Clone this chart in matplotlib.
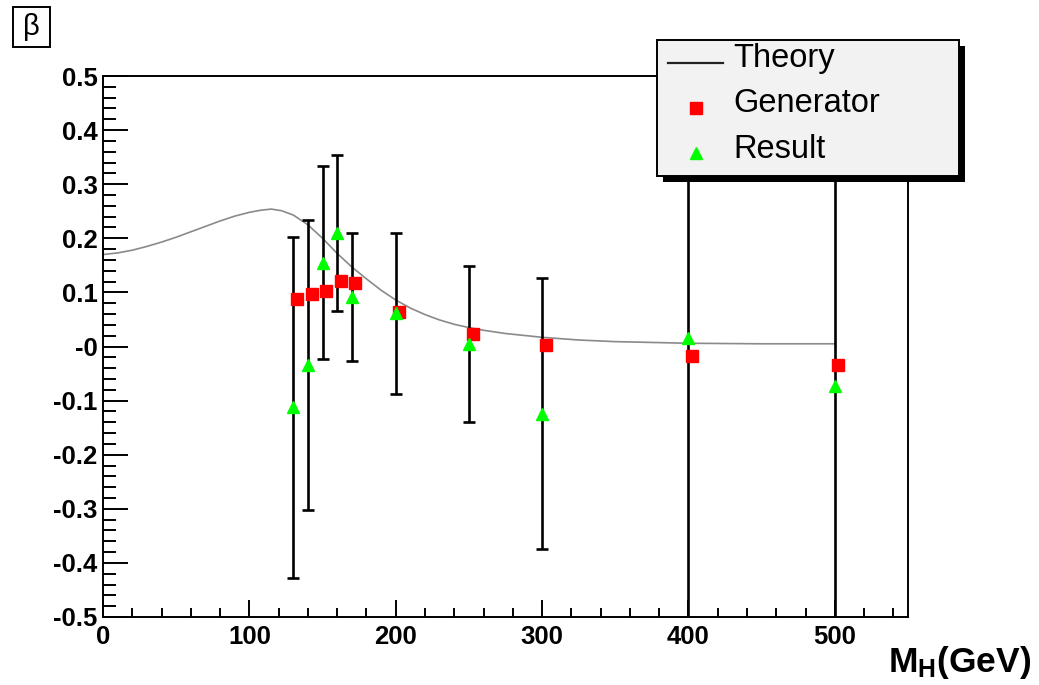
import matplotlib
matplotlib.use("Agg")
import matplotlib.pyplot as plt
from matplotlib.patches import Rectangle
from matplotlib.lines import Line2D
from matplotlib.ticker import MultipleLocator

plt.rcParams['font.family'] = ['Liberation Sans', 'DejaVu Sans']
plt.rcParams['mathtext.fontset'] = 'custom'
plt.rcParams['mathtext.rm'] = 'Liberation Sans'
plt.rcParams['mathtext.bf'] = 'Liberation Sans:bold'

# ---- data ----
theory_x = [0, 10, 20, 30, 40, 50, 60, 70, 80, 90, 100, 108, 115, 122, 130, 140,
            150, 160, 170, 180, 190, 200, 210, 220, 230, 240, 250, 260, 275, 300,
            325, 350, 400, 450, 500]
theory_y = [0.170, 0.173, 0.178, 0.185, 0.193, 0.202, 0.212, 0.222, 0.232, 0.241,
            0.248, 0.252, 0.254, 0.251, 0.243, 0.225, 0.200, 0.172, 0.147, 0.125,
            0.104, 0.086, 0.071, 0.059, 0.049, 0.041, 0.035, 0.030, 0.024, 0.017,
            0.012, 0.009, 0.006, 0.005, 0.005]

mass = [130, 140, 150, 160, 170, 200, 250, 300, 400, 500]
gen_x = [132.5, 142.5, 152.5, 162.5, 172.5, 202.5, 252.5, 302.5, 402.5, 502.5]
gen_y = [0.088, 0.097, 0.103, 0.121, 0.117, 0.064, 0.023, 0.003, -0.017, -0.035]
res_y = [-0.112, -0.034, 0.155, 0.210, 0.091, 0.061, 0.004, -0.124, 0.015, -0.073]
res_err = [0.315, 0.268, 0.178, 0.144, 0.118, 0.149, 0.144, 0.250, 0.60, 0.60]

ytick_vals = [-0.5, -0.4, -0.3, -0.2, -0.1, 0.0, 0.1, 0.2, 0.3, 0.4, 0.5]
ytick_labels = ['-0.5', '-0.4', '-0.3', '-0.2', '-0.1', '-0', '0.1', '0.2', '0.3', '0.4', '0.5']
xtick_vals = [0, 100, 200, 300, 400, 500]
xtick_labels = ['0', '100', '200', '300', '400', '500']

W, H = 1039, 685
fig = plt.figure(figsize=(W / 100, H / 100), dpi=100)

def fx(px):
    return px / W

def fy(py):
    return 1 - py / H

ax = fig.add_axes([fx(103), fy(617), fx(908) - fx(103), fy(76) - fy(617)])
ax.set_xlim(0, 550)
ax.set_ylim(-0.5, 0.5)

ax.plot(theory_x, theory_y, color='#8a8a8a', lw=1.2, zorder=2)
ax.errorbar(mass, res_y, yerr=res_err, fmt='none', ecolor='black', elinewidth=1.9,
            capsize=4, capthick=1.9, zorder=3)
ax.plot(gen_x, gen_y, ls='none', marker='s', ms=8.5, color='#ff0000', mec='#ff0000', zorder=4)
ax.plot(mass, res_y, ls='none', marker='^', ms=9, color='#00ff00', mec='#00ff00', zorder=5)

for s in ax.spines.values():
    s.set_linewidth(1.4)
ax.set_xticks(xtick_vals)
ax.set_xticklabels(xtick_labels)
ax.set_yticks(ytick_vals)
ax.set_yticklabels(ytick_labels)
ax.xaxis.set_minor_locator(MultipleLocator(20))
ax.yaxis.set_minor_locator(MultipleLocator(0.02))
ax.tick_params(axis='both', which='both', direction='in', width=1.4, color='black')
ax.tick_params(axis='y', which='major', length=18, pad=4)
ax.tick_params(axis='y', which='minor', length=9.5)
ax.tick_params(axis='x', which='major', length=12, pad=6)
ax.tick_params(axis='x', which='minor', length=6.5)
for lab in ax.get_xticklabels() + ax.get_yticklabels():
    lab.set_fontweight('bold')
    lab.set_fontsize(18.5)

# axis title
fig.text(fx(1031), fy(672), r'$\mathbf{M_{H}(GeV)}$', ha='right', va='baseline', fontsize=25.5)

# beta box
fig.add_artist(Rectangle((fx(13), fy(47)), fx(50) - fx(13), fy(7) - fy(47),
                         transform=fig.transFigure, facecolor='white', edgecolor='black', lw=1.4))
fig.text(fx(31.5), fy(27), 'β', ha='center', va='center', fontsize=21)

# legend
lx0, ly0, lx1, ly1 = 657, 40, 959, 176
fig.add_artist(Rectangle((fx(lx0 + 6), fy(ly1 + 6)), fx(lx1) - fx(lx0), fy(ly0) - fy(ly1),
                         transform=fig.transFigure, facecolor='black', edgecolor='black', lw=0, zorder=10))
fig.add_artist(Rectangle((fx(lx0), fy(ly1)), fx(lx1) - fx(lx0), fy(ly0) - fy(ly1),
                         transform=fig.transFigure, facecolor='#f2f2f2', edgecolor='black', lw=1.4, zorder=11))
fig.add_artist(Line2D([fx(668), fx(723)], [fy(63), fy(63)], transform=fig.transFigure,
                      color='#222222', lw=1.6, zorder=12))
fig.add_artist(Line2D([fx(696)], [fy(108)], transform=fig.transFigure, ls='none', marker='s',
                      ms=8.5, color='#ff0000', mec='#ff0000', zorder=12))
fig.add_artist(Line2D([fx(696)], [fy(153)], transform=fig.transFigure, ls='none', marker='^',
                      ms=9, color='#00ff00', mec='#00ff00', zorder=12))
for txt, py in [('Theory', 58), ('Generator', 104), ('Result', 149)]:
    fig.text(fx(733), fy(py), txt, ha='left', va='center', fontsize=23.5, zorder=13)

fig.savefig('out.png', dpi=100)
